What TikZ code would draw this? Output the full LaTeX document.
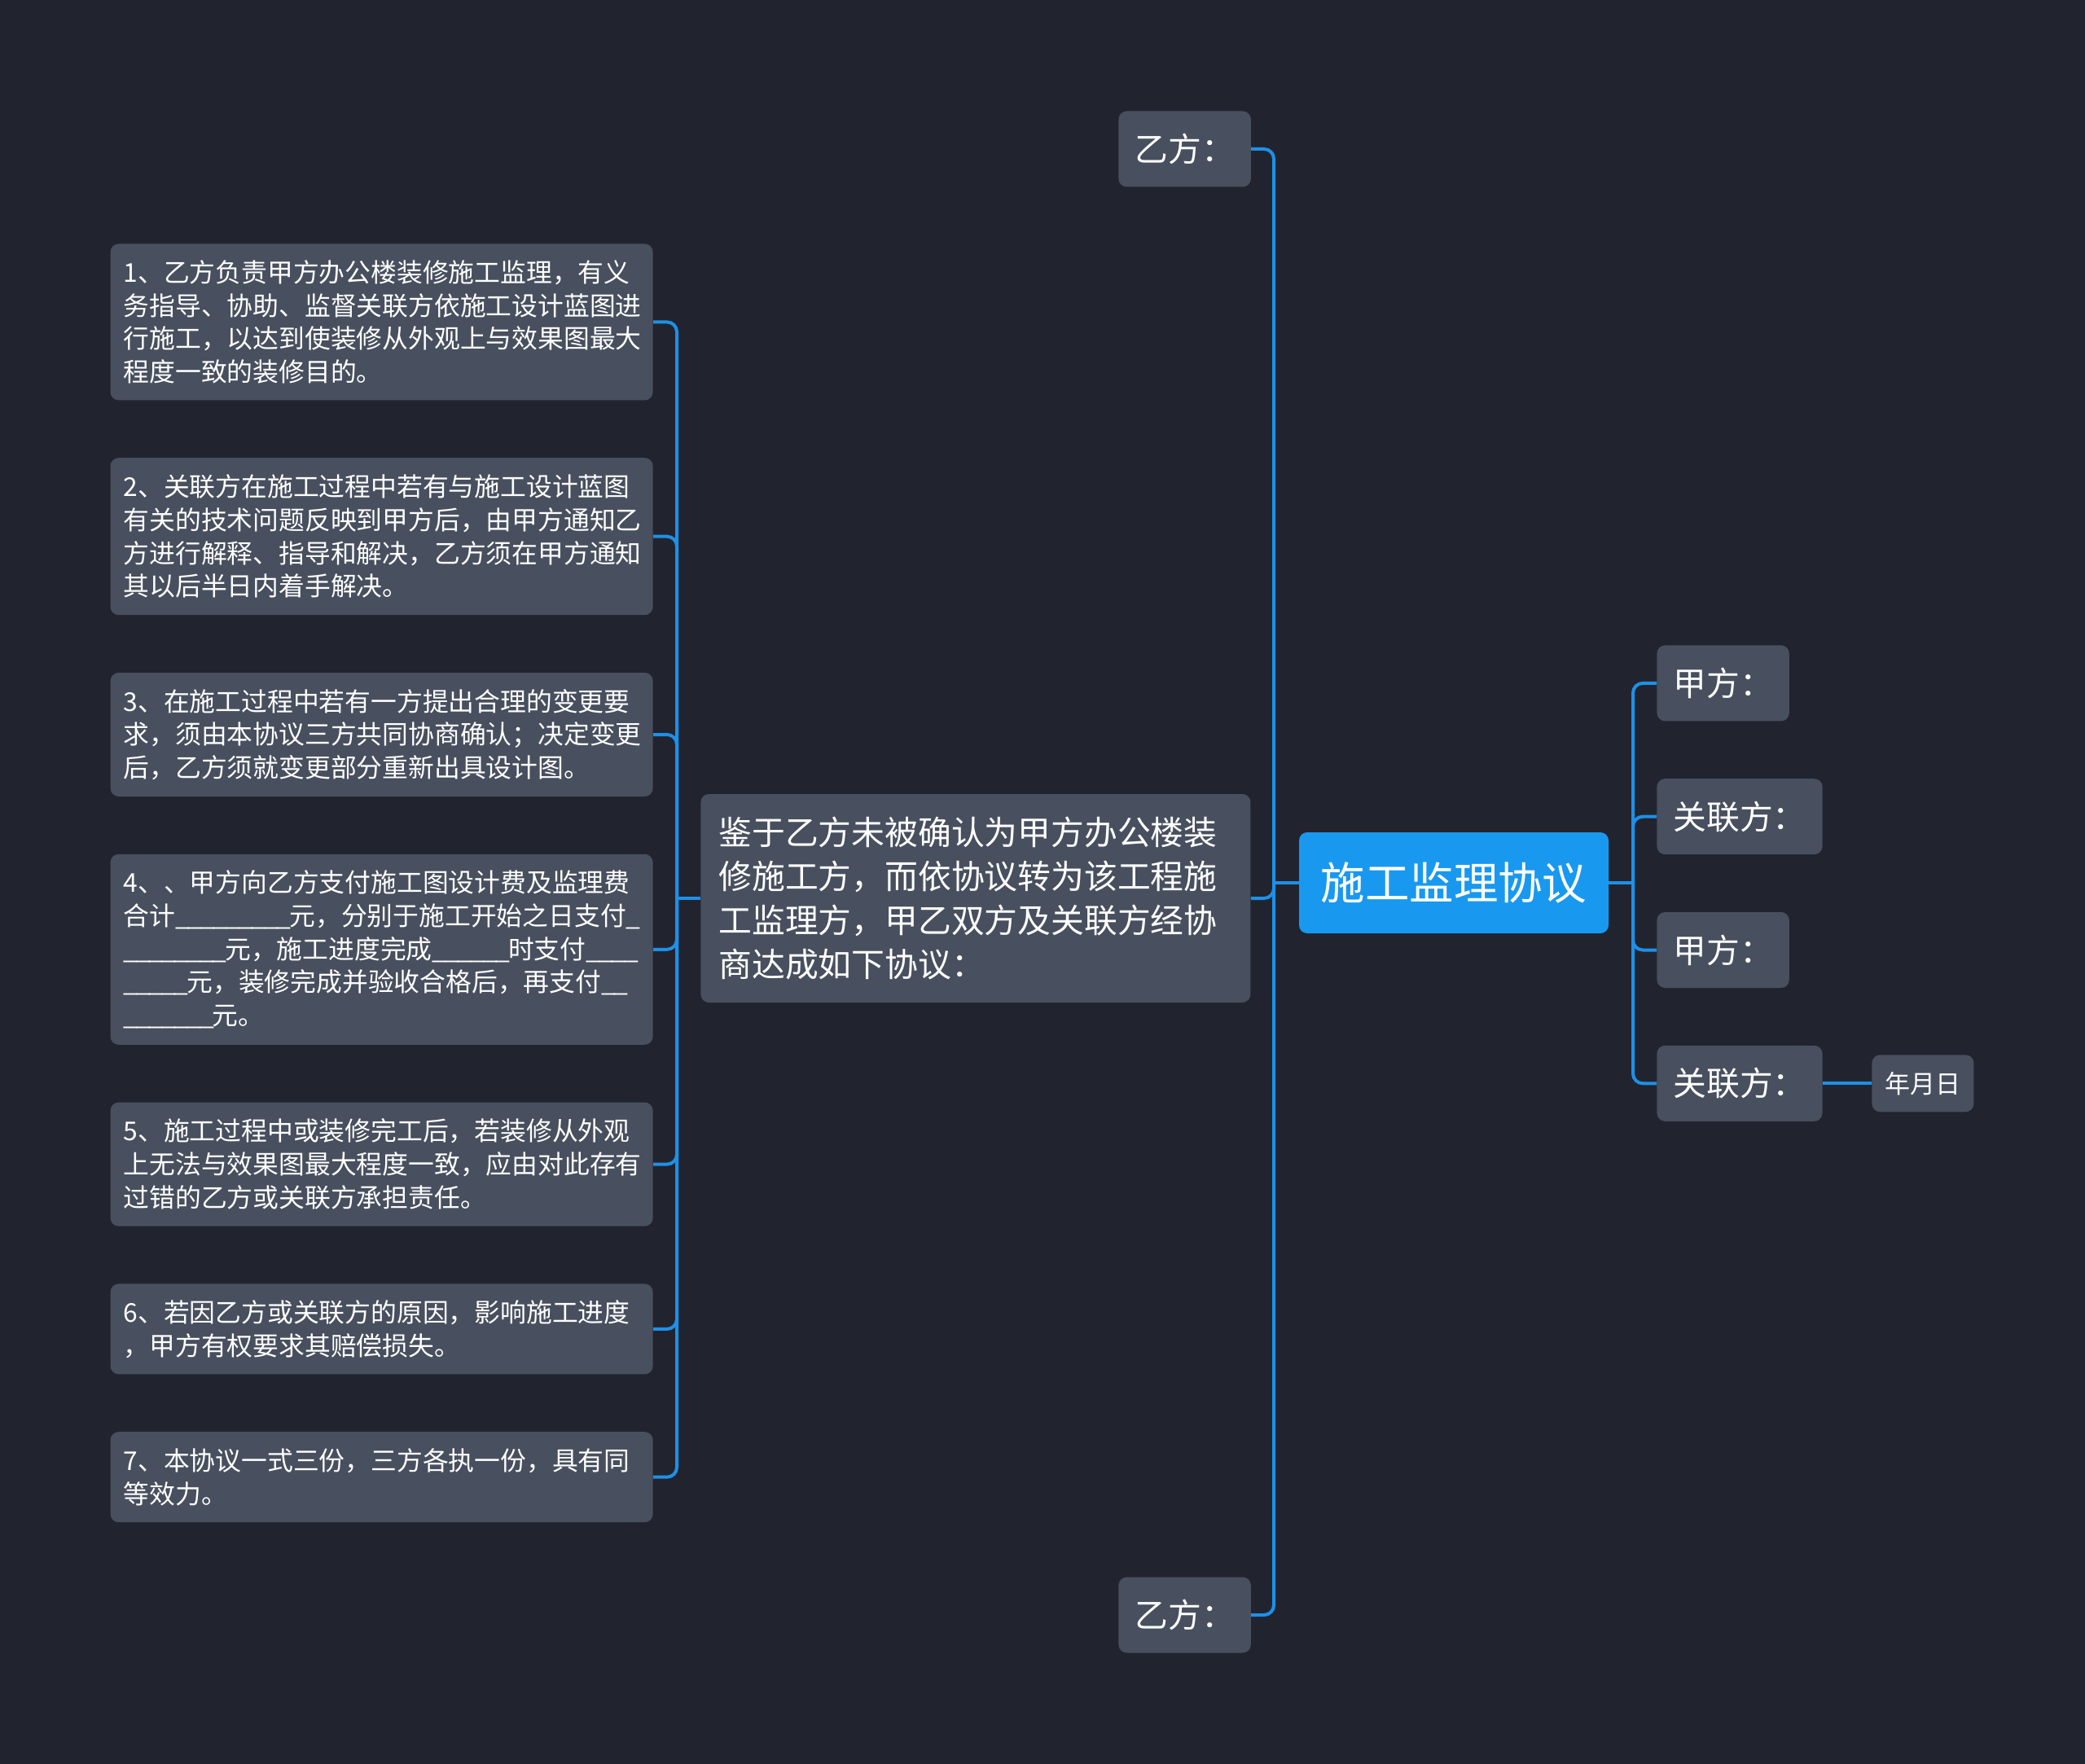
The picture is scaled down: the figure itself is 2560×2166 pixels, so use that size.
\documentclass[tikz,border=0pt]{standalone}
\usepackage{fontspec}
\newfontfamily\cjk{Noto Sans CJK SC}
\usetikzlibrary{positioning}

\definecolor{bgdark}{RGB}{33,36,47}
\definecolor{boxgray}{RGB}{72,79,94}
\definecolor{linkblue}{RGB}{30,144,230}
\definecolor{rootblue}{RGB}{25,152,240}

\newcommand{\fillbar}{\leavevmode\hbox to 0.49em{\_\hss}}

\begin{document}
\begin{tikzpicture}[x=0.5pt, y=-0.5pt,
  mainbox/.style={rectangle, rounded corners=5pt, minimum width=190pt, minimum height=62pt, text centered, fill=rootblue, text=white, font=\cjk\fontsize{27.2pt}{32pt}\selectfont},
  introbox/.style={rectangle, rounded corners=5pt, text width=315.5pt, inner xsep=11pt, minimum height=128pt, align=left, fill=boxgray, text=white, font=\cjk\fontsize{20.4pt}{27pt}\selectfont},
  clause/.style={rectangle, rounded corners=5pt, text width=317pt, inner xsep=8pt, inner ysep=0pt, align=left, fill=boxgray, text=white, font=\cjk\fontsize{15.9pt}{20.4pt}\selectfont},
  party/.style={rectangle, rounded corners=5pt, inner xsep=10pt, minimum height=46.5pt, fill=boxgray, text=white, font=\cjk\fontsize{20.4pt}{24pt}\selectfont},
  leaf/.style={rectangle, rounded corners=5pt, inner xsep=8pt, minimum height=35pt, fill=boxgray, text=white, font=\cjk\fontsize{15.5pt}{18pt}\selectfont},
  connector/.style={draw=linkblue, line width=2pt, rounded corners=6pt}]

  \fill [bgdark] (0,0) rectangle (2560,2166);
  \useasboundingbox (0,0) rectangle (2560,2166);

  % Nodes
  \node (root) [mainbox] at (1785,1084) {施工监理协议};
  \node (intro) [introbox, anchor=west] at (860,1103) {鉴于乙方未被确认为甲方办公楼装\\
    修施工方，而依协议转为该工程施\\
    工监理方，甲乙双方及关联方经协\\
    商达成如下协议：};
  \node (yifang1) [party, anchor=west] at (1373,183) {乙方：};
  \node (yifang2) [party, anchor=west] at (1373,1983) {乙方：};

  \node (clause1) [clause, minimum height=96pt, anchor=north east] at (802,299) {1、乙方负责甲方办公楼装修施工监理，有义\\
    务指导、协助、监督关联方依施工设计蓝图进\\
    行施工，以达到使装修从外观上与效果图最大\\
    程度一致的装修目的。};
  \node (clause2) [clause, minimum height=96.5pt, below=35pt of clause1] {2、关联方在施工过程中若有与施工设计蓝图\\
    有关的技术问题反映到甲方后，由甲方通知乙\\
    方进行解释、指导和解决，乙方须在甲方通知\\
    其以后半日内着手解决。};
  \node (clause3) [clause, minimum height=76pt, below=35pt of clause2] {3、在施工过程中若有一方提出合理的变更要\\
    求，须由本协议三方共同协商确认；决定变更\\
    后，乙方须就变更部分重新出具设计图。};
  \node (clause4) [clause, minimum height=117pt, below=35pt of clause3] {4、、甲方向乙方支付施工图设计费及监理费\\
    合计\fillbar\fillbar\fillbar\fillbar\fillbar\fillbar\fillbar\fillbar\fillbar 元，分别于施工开始之日支付\fillbar\\
    \fillbar\fillbar\fillbar\fillbar\fillbar\fillbar\fillbar\fillbar 元，施工进度完成\fillbar\fillbar\fillbar\fillbar\fillbar\fillbar 时支付\fillbar\fillbar\fillbar\fillbar\\
    \fillbar\fillbar\fillbar\fillbar\fillbar 元，装修完成并验收合格后，再支付\fillbar\fillbar\\
    \fillbar\fillbar\fillbar\fillbar\fillbar\fillbar\fillbar 元。};
  \node (clause5) [clause, minimum height=76pt, below=35pt of clause4] {5、施工过程中或装修完工后，若装修从外观\\
    上无法与效果图最大程度一致，应由对此存有\\
    过错的乙方或关联方承担责任。};
  \node (clause6) [clause, minimum height=55.5pt, below=35pt of clause5] {6、若因乙方或关联方的原因，影响施工进度\\
    ，甲方有权要求其赔偿损失。};
  \node (clause7) [clause, minimum height=55.5pt, below=35pt of clause6] {7、本协议一式三份，三方各执一份，具有同\\
    等效力。};

  \node (jiafang1) [party, anchor=north west] at (2034,792) {甲方：};
  \node (guanlian1) [party, below=35pt of jiafang1.south west, anchor=north west] {关联方：};
  \node (jiafang2) [party, below=35pt of guanlian1.south west, anchor=north west] {甲方：};
  \node (guanlian2) [party, below=35pt of jiafang2.south west, anchor=north west] {关联方：};
  \node (riqi) [leaf, right=30pt of guanlian2] {年月日};

  \coordinate (hubL) at (1564,1084);
  \coordinate (hubR) at (2005,1084);
  \coordinate (hubC) at (831,1103);

  % Connectors
  \draw [connector] (root) -- (hubL);
  \draw [connector] (hubL) |- (yifang1.east);
  \draw [connector] (hubL) |- (intro.east);
  \draw [connector] (hubL) |- (yifang2.east);

  \draw [connector] (intro) -- (hubC);
  \draw [connector] (hubC) |- (clause1.east);
  \draw [connector] (hubC) |- (clause2.east);
  \draw [connector] (hubC) |- (clause3.east);
  \draw [connector] (hubC) |- (clause4.east);
  \draw [connector] (hubC) |- (clause5.east);
  \draw [connector] (hubC) |- (clause6.east);
  \draw [connector] (hubC) |- (clause7.east);

  \draw [connector] (root) -- (hubR);
  \draw [connector] (hubR) |- (jiafang1.west);
  \draw [connector] (hubR) |- (guanlian1.west);
  \draw [connector] (hubR) |- (jiafang2.west);
  \draw [connector] (hubR) |- (guanlian2.west);
  \draw [connector] (guanlian2) -- (riqi);
\end{tikzpicture}
\end{document}
